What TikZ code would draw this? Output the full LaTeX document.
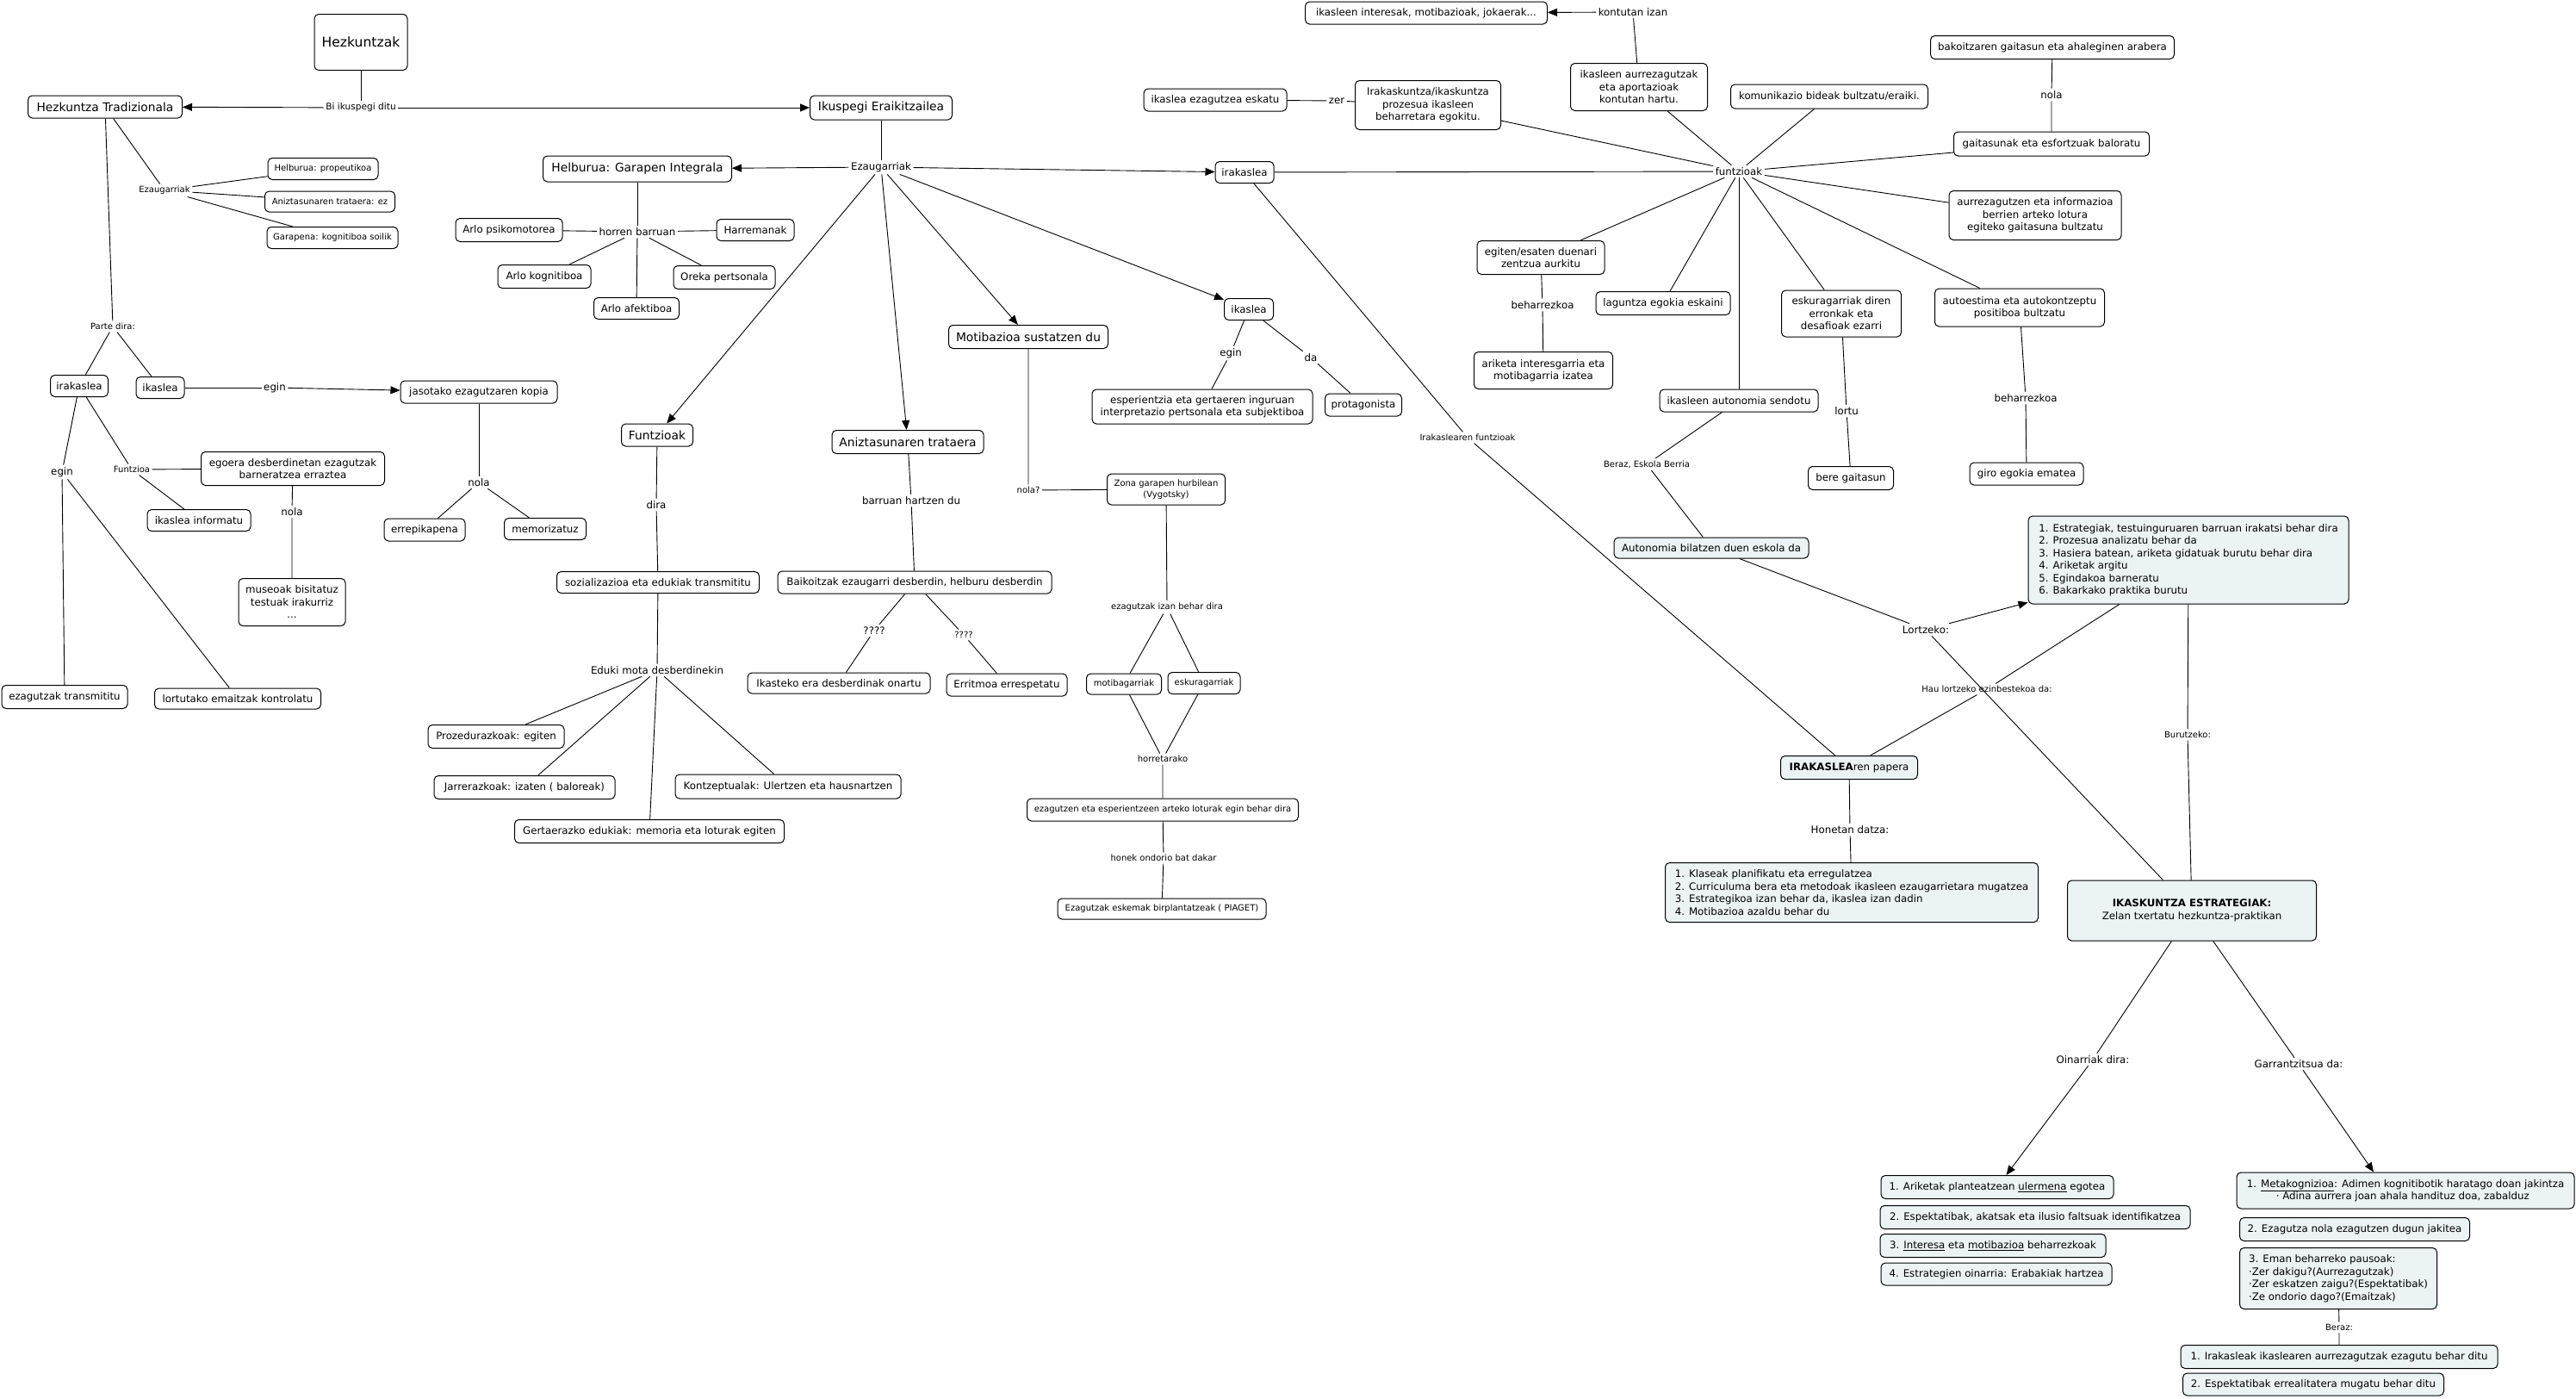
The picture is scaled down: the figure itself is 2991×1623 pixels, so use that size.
\documentclass[tikz,border=0pt]{standalone}
\usepackage{fontspec}
\setmainfont{DejaVu Sans}
\usetikzlibrary{arrows.meta}
\definecolor{boxfill}{RGB}{236,243,245}
\newcommand\fszB{\fontsize{15.6}{19}\selectfont}
\newcommand\fszL{\fontsize{13.8}{17}\selectfont}
\newcommand\fszM{\fontsize{11.8}{14.5}\selectfont}
\newcommand\fszS{\fontsize{10}{12.6}\selectfont}
\newcommand\fszN{\fontsize{10.6}{13}\selectfont}
\tikzset{
  box/.style={draw, line width=1pt, rounded corners=5pt, fill=white, align=center, inner xsep=3pt, inner ysep=3pt, font=\fszM},
  fbox/.style={box, fill=boxfill},
  sz/.style 2 args={minimum width=#1pt, minimum height=#2pt},
  lab/.style={inner sep=2.5pt, font=\fszM, align=center},
  slab/.style={lab, font=\fszS},
  conn/.style={line width=0.9pt},
  arr/.style={conn, -{Triangle[length=11pt,width=9pt]}}
}
\begin{document}
\begin{tikzpicture}[x=1pt,y=-1pt]
\fill[white] (0,0) rectangle (2991,1623);
\useasboundingbox (0,0) rectangle (2991,1623);
% ---------- left ----------
\node[box,font=\fszB,sz={108}{65}] (hez) at (419,49) {Hezkuntzak};
\node[lab,font=\fszN] (bi) at (419,125) {Bi ikuspegi ditu};
\node[box,font=\fszL,sz={179}{26}] (ht) at (122,124) {Hezkuntza Tradizionala};
\node[box,font=\fszL,sz={165}{28}] (ie) at (1023,125) {Ikuspegi Eraikitzailea};
\node[slab] (ez1) at (191,221) {Ezaugarriak};
\node[box,font=\fszS,sz={128}{25}] (prop) at (375,196) {Helburua: propeutikoa};
\node[box,font=\fszS,sz={151}{24}] (anez) at (383,234) {Aniztasunaren trataera: ez};
\node[box,font=\fszS,sz={152}{25}] (garap) at (386,276) {Garapena: kognitiboa soilik};
\node[slab] (parte) at (131,379) {Parte dira:};
\node[box,sz={67}{25}] (irak1) at (92,448) {irakaslea};
\node[box,sz={56}{25}] (ikas1) at (186,450) {ikaslea};
\node[lab] (egin0) at (319,450) {egin};
\node[box,sz={182}{26}] (jaso) at (556,455) {jasotako ezagutzaren kopia};
\node[lab] (nola2) at (556,560) {nola};
\node[box,sz={94}{26}] (errep) at (493,615) {errepikapena};
\node[box,sz={95}{25}] (memo) at (633,614) {memorizatuz};
\node[lab] (egin1) at (72,548) {egin};
\node[slab] (funtzioa) at (153,545) {Funtzioa};
\node[box,sz={213}{39}] (egoera) at (340,544) {egoera desberdinetan ezagutzak\\barneratzea erraztea};
\node[box,sz={120}{25}] (ikinf) at (231,604) {ikaslea informatu};
\node[lab] (nola1) at (339,594) {nola};
\node[box,sz={124}{55}] (museo) at (339,699) {museoak bisitatuz\\testuak irakurriz\\...};
\node[box,sz={146}{27}] (ezagtr) at (75,809) {ezagutzak transmititu};
\node[box,sz={193}{24}] (lortut) at (276,811) {lortutako emaitzak kontrolatu};
% ---------- middle ----------
\node[lab] (ez2) at (1023,194) {Ezaugarriak};
\node[box,font=\fszL,sz={219}{30}] (hgi) at (740,196) {Helburua: Garapen Integrala};
\node[lab] (horren) at (740,269) {horren barruan};
\node[box,sz={124}{27}] (psiko) at (591,267) {Arlo psikomotorea};
\node[box,sz={90}{25}] (harre) at (877,267) {Harremanak};
\node[box,sz={108}{27}] (kogni) at (632,321) {Arlo kognitiboa};
\node[box,sz={118}{27}] (oreka) at (841,322) {Oreka pertsonala};
\node[box,sz={99}{25}] (afek) at (739,358) {Arlo afektiboa};
\node[box,font=\fszL,sz={83}{26}] (funtz) at (763,505) {Funtzioak};
\node[lab] (dira) at (762,586) {dira};
\node[box,sz={235}{25}] (sozi) at (764,676) {sozializazioa eta edukiak transmititu};
\node[lab] (eduki) at (763,778) {Eduki mota desberdinekin};
\node[box,sz={158}{27}] (proz) at (576,855) {Prozedurazkoak: egiten};
\node[box,sz={210}{27}] (jarr) at (609,914) {Jarrerazkoak: izaten ( baloreak)};
\node[box,sz={262}{28}] (kontz) at (915,913) {Kontzeptualak: Ulertzen eta hausnartzen};
\node[box,sz={313}{27}] (gert) at (754,965) {Gertaerazko edukiak: memoria eta loturak egiten};
\node[box,font=\fszL,sz={176}{27}] (aniz) at (1054,513) {Aniztasunaren trataera};
\node[lab] (barruan) at (1058,581) {barruan hartzen du};
\node[box,sz={318}{26}] (baik) at (1062,676) {Baikoitzak ezaugarri desberdin, helburu desberdin};
\node[lab] (q1) at (1015,732) {????};
\node[slab] (q2) at (1119,737) {????};
\node[box,sz={212}{24}] (ikast) at (974,793) {Ikasteko era desberdinak onartu};
\node[box,sz={140}{26}] (errit) at (1169,795) {Erritmoa errespetatu};
\node[box,font=\fszL,sz={185}{27}] (motib) at (1194,391) {Motibazioa sustatzen du};
\node[slab] (nolaq) at (1194,569) {nola?};
\node[box,font=\fszS,sz={137}{36}] (zona) at (1354,568) {Zona garapen hurbilean\\(Vygotsky)};
\node[slab] (ezizan) at (1355,705) {ezagutzak izan behar dira};
\node[box,font=\fszS,sz={87}{24}] (motg) at (1305,794) {motibagarriak};
\node[box,font=\fszS,sz={84}{25}] (eskg) at (1398,793) {eskuragarriak};
\node[slab] (horret) at (1350,881) {horretarako};
\node[box,font=\fszS,sz={315}{26}] (ezesp) at (1350,940) {ezagutzen eta esperientzeen arteko loturak egin behar dira};
\node[slab] (honek) at (1351,996) {honek ondorio bat dakar};
\node[box,font=\fszS,sz={242}{24}] (piaget) at (1349,1055) {Ezagutzak eskemak birplantatzeak ( PIAGET)};
\node[box,sz={68}{25}] (irak2) at (1445,200) {irakaslea};
\node[box,sz={57}{25}] (ikas2) at (1450,359) {ikaslea};
\node[lab] (egin2) at (1429,410) {egin};
\node[lab] (da) at (1522,415) {da};
\node[box,sz={256}{40}] (esper) at (1396,472) {esperientzia eta gertaeren inguruan\\interpretazio pertsonala eta subjektiboa};
\node[box,sz={89}{26}] (protag) at (1583,470) {protagonista};
\node[slab] (irfun) at (1704,508) {Irakaslearen funtzioak};
% ---------- right ----------
\node[lab] (funtzk) at (2019,199) {funtzioak};
\node[box,sz={281}{26}] (inter) at (1656,15) {ikasleen interesak, motibazioak, jokaerak...};
\node[lab] (kontutan) at (1896,14) {kontutan izan};
\node[box,sz={159}{55}] (aurrez) at (1903,101) {ikasleen aurrezagutzak\\eta aportazioak\\kontutan hartu.};
\node[box,sz={166}{26}] (ikezag) at (1411,116) {ikaslea ezagutzea eskatu};
\node[lab] (zer) at (1552,117) {zer};
\node[box,sz={169}{57}] (irakask) at (1658,122) {Irakaskuntza/ikaskuntza\\prozesua ikasleen\\beharretara egokitu.};
\node[box,sz={229}{28}] (komun) at (2124,112) {komunikazio bideak bultzatu/eraiki.};
\node[box,sz={283}{27}] (bakoitz) at (2383,55) {bakoitzaren gaitasun eta ahaleginen arabera};
\node[lab] (nola3) at (2382,110) {nola};
\node[box,sz={227}{28}] (gaitas) at (2382,167) {gaitasunak eta esfortzuak baloratu};
\node[box,sz={200}{57}] (aurrinf) at (2363,250) {aurrezagutzen eta informazioa\\berrien arteko lotura\\egiteko gaitasuna bultzatu};
\node[box,sz={148}{39}] (egiten) at (1789,299) {egiten/esaten duenari\\zentzua aurkitu};
\node[lab] (behar1) at (1791,354) {beharrezkoa};
\node[box,sz={161}{43}] (ariketa) at (1792,430) {ariketa interesgarria eta\\motibagarria izatea};
\node[box,sz={156}{27}] (lagun) at (1931,352) {laguntza egokia eskaini};
\node[box,sz={139}{54}] (eskdir) at (2138,364) {eskuragarriak diren\\erronkak eta\\desafioak ezarri};
\node[box,sz={197}{44}] (autoest) at (2345,357) {autoestima eta autokontzeptu\\positiboa bultzatu};
\node[box,sz={184}{26}] (auton) at (2019,465) {ikasleen autonomia sendotu};
\node[lab] (lortu) at (2144,477) {lortu};
\node[lab] (behar2) at (2352,462) {beharrezkoa};
\node[box,sz={99}{27}] (bere) at (2149,555) {bere gaitasun};
\node[box,sz={132}{26}] (giro) at (2353,550) {giro egokia ematea};
\node[slab] (beraz1) at (1912,539) {Beraz, Eskola Berria};
\node[fbox,sz={226}{24}] (autbil) at (1987,636) {Autonomia bilatzen duen eskola da};
\node[lab] (lortz) at (2236,731) {Lortzeko:};
\node[fbox,align=left,sz={372}{102}] (six) at (2541,650) {1. Estrategiak, testuinguruaren barruan irakatsi behar dira\\2. Prozesua analizatu behar da\\3. Hasiera batean, ariketa gidatuak burutu behar dira\\4. Ariketak argitu\\5. Egindakoa barneratu\\6. Bakarkako praktika burutu};
\node[slab] (hau) at (2307,800) {Hau lortzeko ezinbestekoa da:};
\node[slab] (burutz) at (2540,853) {Burutzeko:};
\node[fbox,sz={159}{27}] (irpap) at (2147,891) {\textbf{IRAKASLEA}ren papera};
\node[lab] (honet) at (2148,963) {Honetan datza:};
\node[fbox,align=left,sz={433}{69}] (four) at (2150,1036) {1. Klaseak planifikatu eta erregulatzea\\2. Curriculuma bera eta metodoak ikasleen ezaugarrietara mugatzea\\3. Estrategikoa izan behar da, ikaslea izan dadin\\4. Motibazioa azaldu behar du};
\node[fbox,sz={289}{70}] (ikask) at (2545,1057) {\textbf{IKASKUNTZA ESTRATEGIAK:}\\Zelan txertatu hezkuntza-praktikan};
\node[lab] (oinarr) at (2430,1230) {Oinarriak dira:};
\node[lab] (garr) at (2669,1235) {Garrantzitsua da:};
\node[fbox,sz={270}{27}] (L1) at (2319,1378) {1. Ariketak planteatzean \underline{ulermena} egotea};
\node[fbox,sz={360}{27}] (L2) at (2363,1413) {2. Espektatibak, akatsak eta ilusio faltsuak identifikatzea};
\node[fbox,sz={262}{27}] (L3) at (2314,1446) {3. \underline{Interesa} eta \underline{motibazioa} beharrezkoak};
\node[fbox,sz={268}{26}] (L4) at (2318,1479) {4. Estrategien oinarria: Erabakiak hartzea};
\node[fbox,align=left,sz={392}{42}] (R1) at (2793,1382) {1. \underline{Metakognizioa}: Adimen kognitibotik haratago doan jakintza\\\hspace*{34pt}· Adina aurrera joan ahala handituz doa, zabalduz};
\node[fbox,sz={267}{27}] (R2) at (2734,1427) {2. Ezagutza nola ezagutzen dugun jakitea};
\node[fbox,align=left,sz={229}{71}] (R3) at (2715,1484) {3. Eman beharreko pausoak:\\·Zer dakigu?(Aurrezagutzak)\\·Zer eskatzen zaigu?(Espektatibak)\\·Ze ondorio dago?(Emaitzak)};
\node[slab] (beraz2) at (2716,1541) {Beraz:};
\node[fbox,sz={368}{27}] (B1) at (2716,1575) {1. Irakasleak ikaslearen aurrezagutzak ezagutu behar ditu};
\node[fbox,sz={303}{26}] (B2) at (2686,1607) {2. Espektatibak errealitatera mugatu behar ditu};
% ---------- connectors ----------
\draw[conn] (hez) -- (bi);
\draw[arr] (bi) -- (ht);
\draw[arr] (bi) -- (ie);
\draw[conn] (ht) -- (ez1);
\draw[conn] (ez1) -- (prop);
\draw[conn] (ez1) -- (anez);
\draw[conn] (ez1) -- (garap);
\draw[conn] (ht) -- (parte);
\draw[conn] (parte) -- (irak1);
\draw[conn] (parte) -- (ikas1);
\draw[conn] (ikas1) -- (egin0);
\draw[arr] (egin0) -- (jaso);
\draw[conn] (jaso) -- (nola2);
\draw[conn] (nola2) -- (errep);
\draw[conn] (nola2) -- (memo);
\draw[conn] (irak1) -- (egin1);
\draw[conn] (egin1) -- (ezagtr);
\draw[conn] (egin1) -- (lortut);
\draw[conn] (irak1) -- (funtzioa);
\draw[conn] (funtzioa) -- (egoera);
\draw[conn] (funtzioa) -- (ikinf);
\draw[conn] (egoera) -- (nola1) -- (museo);
\draw[conn] (ie) -- (ez2);
\draw[arr] (ez2) -- (hgi);
\draw[arr] (ez2) -- (irak2);
\draw[arr] (ez2) -- (ikas2);
\draw[arr] (ez2) -- (motib);
\draw[arr] (ez2) -- (aniz);
\draw[arr] (ez2) -- (funtz);
\draw[conn] (hgi) -- (horren);
\foreach \t in {psiko,harre,kogni,oreka,afek} \draw[conn] (horren) -- (\t);
\draw[conn] (funtz) -- (dira) -- (sozi) -- (eduki);
\foreach \t in {proz,jarr,gert,kontz} \draw[conn] (eduki) -- (\t);
\draw[conn] (aniz) -- (barruan) -- (baik);
\draw[conn] (baik) -- (q1) -- (ikast);
\draw[conn] (baik) -- (q2) -- (errit);
\draw[conn] (motib) -- (nolaq) -- (zona);
\draw[conn] (zona) -- (ezizan);
\draw[conn] (ezizan) -- (motg);
\draw[conn] (ezizan) -- (eskg);
\draw[conn] (motg) -- (horret);
\draw[conn] (eskg) -- (horret);
\draw[conn] (horret) -- (ezesp) -- (honek) -- (piaget);
\draw[conn] (ikas2) -- (egin2) -- (esper);
\draw[conn] (ikas2) -- (da) -- (protag);
\draw[conn] (irak2) -- (funtzk);
\foreach \t in {irakask,aurrez,komun,gaitas,aurrinf,autoest,eskdir,auton,lagun,egiten} \draw[conn] (funtzk) -- (\t);
\draw[conn] (irakask) -- (zer) -- (ikezag);
\draw[conn] (aurrez) -- (kontutan);
\draw[arr] (kontutan) -- (inter);
\draw[conn] (gaitas) -- (nola3) -- (bakoitz);
\draw[conn] (egiten) -- (behar1) -- (ariketa);
\draw[conn] (eskdir) -- (lortu) -- (bere);
\draw[conn] (autoest) -- (behar2) -- (giro);
\draw[conn] (auton) -- (beraz1) -- (autbil);
\draw[conn] (autbil) -- (lortz);
\draw[arr] (lortz) -- (six);
\draw[conn] (lortz) -- (ikask);
\draw[conn] (irak2) -- (irfun) -- (irpap);
\draw[conn] (irpap) -- (hau) -- (six);
\draw[conn] (irpap) -- (honet) -- (four);
\draw[conn] (six) -- (burutz) -- (ikask);
\draw[conn] (ikask) -- (oinarr);
\draw[arr] (oinarr) -- (L1);
\draw[conn] (ikask) -- (garr);
\draw[arr] (garr) -- ([xshift=-37pt]R1.north);
\draw[conn] (R3) -- (beraz2) -- (B1);
\end{tikzpicture}
\end{document}
